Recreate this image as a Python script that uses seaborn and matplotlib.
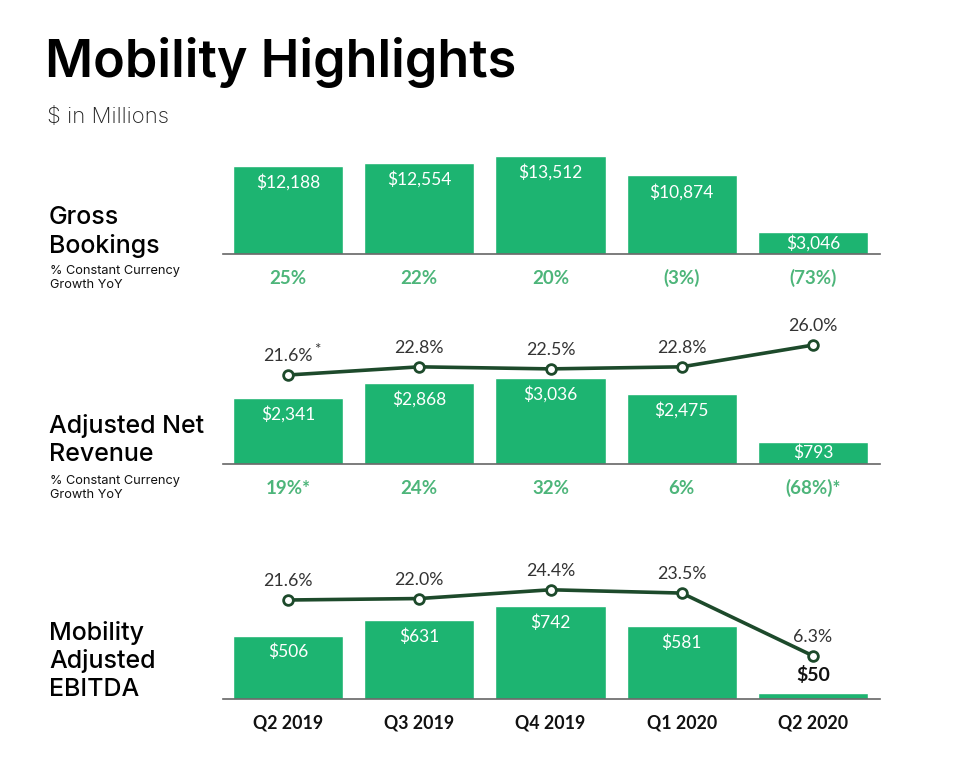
import numpy as np
import pandas as pd
import matplotlib
matplotlib.use("Agg")
import matplotlib.pyplot as plt
import seaborn as sns

sns.set_theme(style="white")
plt.rcParams['font.family'] = ['Lato', 'DejaVu Sans']

quarters = ["Q2 2019", "Q3 2019", "Q4 2019", "Q1 2020", "Q2 2020"]
gross_bookings = [12188, 12554, 13512, 10874, 3046]
gb_growth = ["25%", "22%", "20%", "(3%)", "(73%)"]
net_revenue = [2341, 2868, 3036, 2475, 793]
nr_margin = [21.6, 22.8, 22.5, 22.8, 26.0]
nr_margin_labels = ["21.6%", "22.8%", "22.5%", "22.8%", "26.0%"]
nr_growth = ["19%*", "24%", "32%", "6%", "(68%)*"]
ebitda = [506, 631, 742, 581, 50]
ebitda_margin = [21.6, 22.0, 24.4, 23.5, 6.3]
ebitda_margin_labels = ["21.6%", "22.0%", "24.4%", "23.5%", "6.3%"]

BAR = "#1db471"
LINE = "#1d4a2b"
GROWTH = "#4db57a"
W, H = 960, 763

fig = plt.figure(figsize=(9.6, 7.63), dpi=100)

def axes_px(left, top, right, bottom):
    return fig.add_axes([left / W, 1 - bottom / H, (right - left) / W, (bottom - top) / H])

XL, XR = 223, 880
xlim = (-(288 - XL) / 131.25, 4 + (XR - 813) / 131.25)

def bar_panel(top, bottom, values, ymax, show_ticks=False):
    ax = axes_px(XL, top, XR, bottom)
    df = pd.DataFrame({"q": quarters, "v": values})
    sns.barplot(data=df, x="q", y="v", ax=ax, color=BAR, saturation=1, width=0.84)
    ax.set_xlim(*xlim)
    ax.set_ylim(0, ymax)
    for s in ["top", "right", "left"]:
        ax.spines[s].set_visible(False)
    ax.spines["bottom"].set_color("#666666")
    ax.spines["bottom"].set_linewidth(1.2)
    ax.set_yticks([])
    ax.set_xlabel("")
    ax.set_ylabel("")
    if show_ticks:
        ax.set_xticks(range(5))
        ax.set_xticklabels(quarters, fontsize=12.8, fontweight="bold", color="#111111")
        ax.tick_params(axis="x", length=0, pad=11)
    else:
        ax.set_xticks([])
    ax.patch.set_alpha(0)
    return ax

def line_panel(ax, margins, labels, lo, hi, star_first=False):
    ax2 = ax.twinx()
    sns.lineplot(x=np.arange(5), y=margins, ax=ax2, color=LINE, linewidth=2.6,
                 marker="o", markersize=7, markerfacecolor="white",
                 markeredgecolor=LINE, markeredgewidth=2)
    ax2.set_ylim(lo, hi)
    ax2.set_xlim(*xlim)
    ax2.set_yticks([])
    ax2.set_ylabel("")
    for s in ax2.spines.values():
        s.set_visible(False)
    for i, (m, lab) in enumerate(zip(margins, labels)):
        ax2.annotate(lab, (i, m), xytext=(0, 13.5), textcoords="offset points",
                     ha="center", va="center", fontsize=12.8, color="#333333")
    if star_first:
        ax2.annotate("*", (0, margins[0]), xytext=(21, 18), textcoords="offset points",
                     ha="center", va="center", fontsize=11, color="#333333")
    return ax2

def value_labels(ax, values, ymax, axh_px, small_idx=None):
    for i, v in enumerate(values):
        lab = f"${v:,}"
        h_px = v / ymax * axh_px
        if small_idx is not None and i == small_idx:
            ax.annotate(lab, (i, v), xytext=(0, 13), textcoords="offset points",
                        ha="center", va="center", fontsize=14, color="#111111",
                        fontweight="bold")
        elif h_px < 36:
            ax.annotate(lab, (i, v / 2), ha="center", va="center",
                        fontsize=12.5, color="white")
        else:
            ax.annotate(lab, (i, v), xytext=(0, -12), textcoords="offset points",
                        ha="center", va="center", fontsize=12.5, color="white")

def growth_labels(y_px, labels):
    for i, lab in enumerate(labels):
        xp = 288 + 131.25 * i
        fig.text(xp / W, 1 - y_px / H, lab, ha="center", va="center",
                 fontsize=13.5, fontweight="bold", color=GROWTH)

# Panel 1: Gross Bookings
ymax1 = 13512 * 114 / 98
ax1 = bar_panel(140, 254, gross_bookings, ymax1)
value_labels(ax1, gross_bookings, ymax1, 114)
growth_labels(278, gb_growth)

# Panel 2: Adjusted Net Revenue
ymax2 = 3036 * 134 / 86
ax2 = bar_panel(330, 464, net_revenue, ymax2)
value_labels(ax2, net_revenue, ymax2, 134)
line_panel(ax2, nr_margin, nr_margin_labels, 21.6 - 89 / 6.8, 21.6 + 45 / 6.8, star_first=True)
growth_labels(488, nr_growth)

# Panel 3: Mobility Adjusted EBITDA
ymax3 = 742 * 134 / 93
ax3 = bar_panel(565, 699, ebitda, ymax3, show_ticks=True)
value_labels(ax3, ebitda, ymax3, 134, small_idx=4)
line_panel(ax3, ebitda_margin, ebitda_margin_labels, 21.6 - 99 / 3.65, 21.6 + 35 / 3.65)

# Titles and left labels
tf = ['Inter', 'DejaVu Sans']
fig.text(45 / W, 1 - 63 / H, "Mobility Highlights", family=tf, fontsize=37.5,
         fontweight="semibold", color="#000000", va="center", ha="left")
fig.text(47 / W, 1 - 117 / H, "$ in Millions", family=tf, fontsize=16,
         fontweight="light", color="#222222", va="center", ha="left")

def left_label(lines, y0, step=28.5):
    for k, s in enumerate(lines):
        fig.text(49 / W, 1 - (y0 + k * step) / H, s, family=tf, fontsize=18,
                 fontweight="medium", color="#000000", va="center", ha="left")

def sub_label(y0):
    fig.text(50 / W, 1 - y0 / H, "% Constant Currency", family=tf, fontsize=9.2,
             color="#111111", va="center", ha="left")
    fig.text(50 / W, 1 - (y0 + 14) / H, "Growth YoY", family=tf, fontsize=9.2,
             color="#111111", va="center", ha="left")

left_label(["Gross", "Bookings"], 218)
sub_label(271)
left_label(["Adjusted Net", "Revenue"], 426)
sub_label(481)
left_label(["Mobility", "Adjusted", "EBITDA"], 633, step=28)

fig.savefig("out.png", dpi=100, facecolor="white")
